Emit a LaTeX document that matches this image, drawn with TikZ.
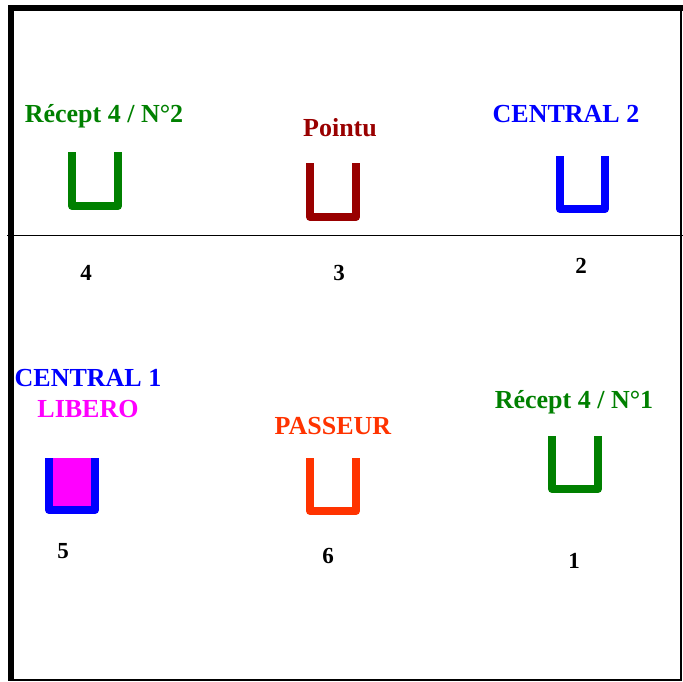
\documentclass[tikz,border=0pt]{standalone}
\usepackage{fontspec}
\setmainfont{Liberation Serif}
\usepackage{tikz}
\usetikzlibrary{positioning}

\definecolor{recept_green}{RGB}{0,128,0}
\definecolor{pointu_red}{RGB}{153,0,0}
\definecolor{passeur_orange}{RGB}{255,51,0}
\definecolor{central_blue}{RGB}{0,0,255}
\definecolor{libero_pink}{RGB}{255,0,255}

\begin{document}
\begin{tikzpicture}[
            x=1pt, y=-1pt,
            role_label/.style={font=\bfseries\fontsize{26}{28}\selectfont, inner sep=0pt, anchor=base},
            zone_number/.style={font=\bfseries\fontsize{23}{25}\selectfont, inner sep=0pt, anchor=base, text=black},
            player_mark/.style={line width=8pt, line join=round, line cap=butt},
            court_line/.style={line width=1.8pt, black},
            court_edge/.style={line width=6pt, black}
        ]

        \useasboundingbox (0,0) rectangle (683,681);

        % court
        \draw[court_line] (681,8) -- (681,680) -- (11,680);
        \draw[court_line] (7,235.5) -- (683,235.5);
        \draw[court_edge] (8,8) -- (683,8);
        \draw[court_edge] (11,5) -- (11,681);

        % front row
        \node[role_label, text=recept_green] (recept_two) at (104,122) {Récept 4 / N°2};
        \node[role_label, text=pointu_red] (pointu) at (340,136) {Pointu};
        \node[role_label, text=central_blue] (central_two) at (566,122) {CENTRAL 2};

        \draw[player_mark, recept_green] (72,152) -- (72,206) -- (118,206) -- (118,152);
        \draw[player_mark, pointu_red] (310,163) -- (310,217) -- (356,217) -- (356,163);
        \draw[player_mark, central_blue] (560,156) -- (560,209) -- (605,209) -- (605,156);

        \node[zone_number] (zone_four) at (86,280) {4};
        \node[zone_number] (zone_three) at (339,280) {3};
        \node[zone_number] (zone_two) at (581,273) {2};

        % back row
        \node[role_label, text=central_blue] (central_one) at (88,386) {CENTRAL 1};
        \node[role_label, text=libero_pink] (libero) at (88,417) {LIBERO};
        \node[role_label, text=passeur_orange] (passeur) at (333,434) {PASSEUR};
        \node[role_label, text=recept_green] (recept_one) at (574,408) {Récept 4 / N°1};

        \filldraw[player_mark, draw=central_blue, fill=libero_pink] (49,458) -- (49,510) -- (95,510) -- (95,458);
        \draw[player_mark, passeur_orange] (310,458) -- (310,511) -- (356,511) -- (356,458);
        \draw[player_mark, recept_green] (552,436) -- (552,489) -- (598,489) -- (598,436);

        \node[zone_number] (zone_five) at (63,558) {5};
        \node[zone_number] (zone_six) at (328,563) {6};
        \node[zone_number] (zone_one) at (574,568) {1};

\end{tikzpicture}
\end{document}
